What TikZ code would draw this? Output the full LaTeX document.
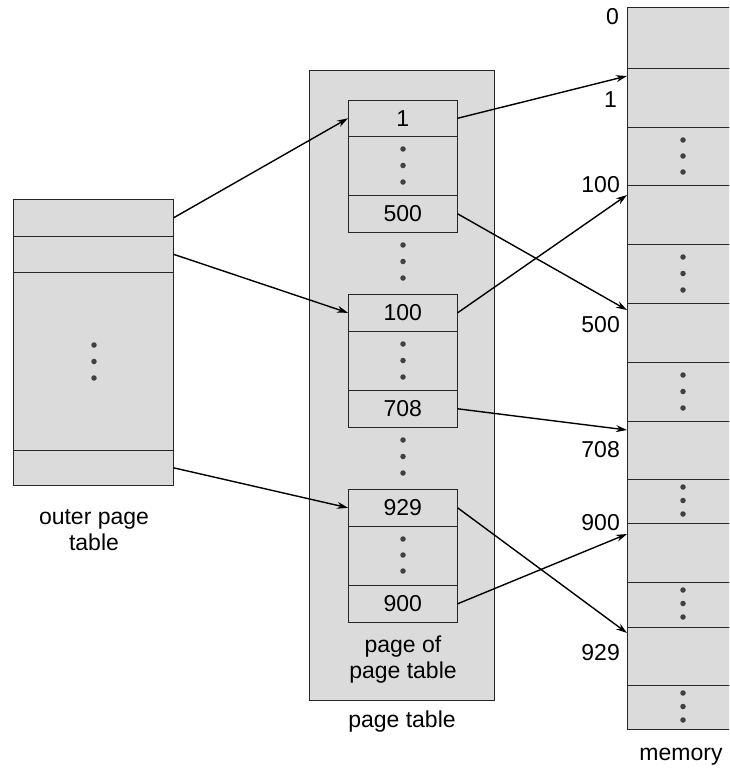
\documentclass[tikz,border=0pt]{standalone}
\usepackage{fontspec}
\setmainfont{Liberation Sans}
\usetikzlibrary{arrows.meta}
\begin{document}
\begin{tikzpicture}[x=1pt,y=-1pt,
  cell/.style={draw=black!85, line width=0.6pt, fill=gray!28, inner sep=0pt, anchor=north west},
  txt/.style={font=\fontsize{23}{26}\selectfont, inner sep=0pt, align=center},
  arr/.style={-{Stealth[length=11pt,width=7pt]}, line width=1.4pt},
  dot/.style={circle, fill=black!75, inner sep=0pt, minimum size=5.5pt}]
\useasboundingbox (0,0) rectangle (729,771);
\clip (0,0) rectangle (729,771);

% outer page table
\node[cell, minimum width=160pt, minimum height=37pt] (o1) at (13,199) {};
\node[cell, minimum width=160pt, minimum height=36pt] (o2) at (13,236) {};
\node[cell, minimum width=160pt, minimum height=178pt] (o3) at (13,272) {};
\node[cell, minimum width=160pt, minimum height=35pt] (o4) at (13,450) {};
\foreach \y in {345,361.5,378} \node[dot] at (94,\y) {};
\node[txt] (olbl) at (94,530) {outer page\\table};

% page table
\node[cell, minimum width=185pt, minimum height=630pt] (pt) at (309,70) {};
\node[cell, txt, minimum width=109pt, minimum height=36pt] (p1a) at (348,100) {1};
\node[cell, minimum width=109pt, minimum height=59pt] (p1b) at (348,136) {};
\node[cell, txt, minimum width=109pt, minimum height=37pt] (p1c) at (348,195) {500};
\node[cell, txt, minimum width=109pt, minimum height=37pt] (p2a) at (348,294) {100};
\node[cell, minimum width=109pt, minimum height=59pt] (p2b) at (348,331) {};
\node[cell, txt, minimum width=109pt, minimum height=37pt] (p2c) at (348,390) {708};
\node[cell, txt, minimum width=109pt, minimum height=37pt] (p3a) at (348,489) {929};
\node[cell, minimum width=109pt, minimum height=59pt] (p3b) at (348,526) {};
\node[cell, txt, minimum width=109pt, minimum height=37pt] (p3c) at (348,585) {900};
\foreach \y in {149,165.5,182, 245,261.5,278, 344,360.5,377, 440,456.5,473, 539,555,571}
  \node[dot] at (403,\y) {};
\node[txt] (pglbl) at (403,660) {page of\\page table};
\node[txt] (ptlbl) at (402,722) {page table};

% memory
\node[cell, minimum width=120pt, minimum height=61pt] (m0) at (627,7) {};
\node[cell, minimum width=120pt, minimum height=59pt] (m1) at (627,68) {};
\node[cell, minimum width=120pt, minimum height=58pt] (md1) at (627,127) {};
\node[cell, minimum width=120pt, minimum height=59pt] (m100) at (627,185) {};
\node[cell, minimum width=120pt, minimum height=59pt] (md2) at (627,244) {};
\node[cell, minimum width=120pt, minimum height=59pt] (m500) at (627,303) {};
\node[cell, minimum width=120pt, minimum height=59pt] (md3) at (627,362) {};
\node[cell, minimum width=120pt, minimum height=58pt] (m708) at (627,421) {};
\node[cell, minimum width=120pt, minimum height=44pt] (md4) at (627,479) {};
\node[cell, minimum width=120pt, minimum height=59pt] (m900) at (627,523) {};
\node[cell, minimum width=120pt, minimum height=45pt] (md5) at (627,582) {};
\node[cell, minimum width=120pt, minimum height=58pt] (m929) at (627,627) {};
\node[cell, minimum width=120pt, minimum height=44pt] (md6) at (627,685) {};
\foreach \y in {140,156,172, 257,273.5,290, 375,391.5,408, 487,500.5,514, 590,603.5,617, 693,706.5,720}
  \node[dot] at (683,\y) {};
\node[txt, anchor=east] (l0) at (619,17) {0};
\node[txt, anchor=east] (l1) at (617,100) {1};
\node[txt, anchor=east] (l100) at (620,185) {100};
\node[txt, anchor=east] (l500) at (620,325) {500};
\node[txt, anchor=east] (l708) at (620,450) {708};
\node[txt, anchor=east] (l900) at (620,523) {900};
\node[txt, anchor=east] (l929) at (620,653) {929};
\node[txt] (mlbl) at (681,757) {memory};

% arrows outer -> page table
\draw[arr] (o1.east) -- (p1a.west);
\draw[arr] (o2.east) -- (p2a.west);
\draw[arr] (o4.east) -- (p3a.west);

% arrows page table -> memory
\draw[arr] (p1a.east) -- ([yshift=-8pt]m1.north west);
\draw[arr] (p1c.east) -- ([yshift=-7pt]m500.north west);
\draw[arr] (p2a.east) -- ([yshift=-10pt]m100.north west);
\draw[arr] (p2c.east) -- ([yshift=-9pt]m708.north west);
\draw[arr] (p3a.east) -- ([yshift=-6pt]m929.north west);
\draw[arr] (p3c.east) -- ([yshift=-11pt]m900.north west);
\end{tikzpicture}
\end{document}
